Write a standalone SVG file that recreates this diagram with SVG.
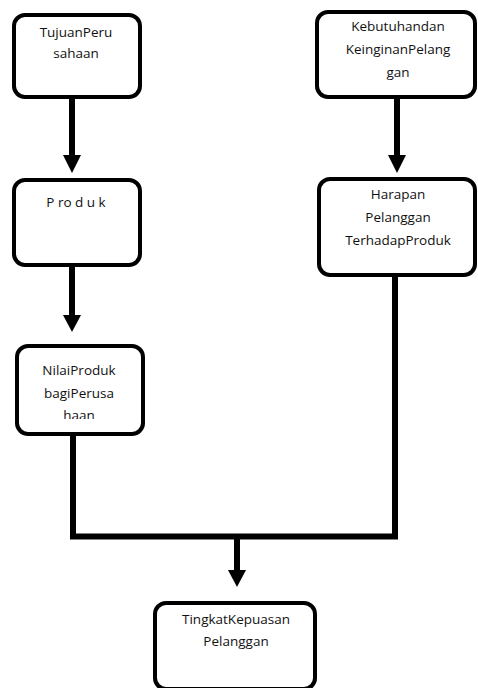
<svg xmlns="http://www.w3.org/2000/svg" width="478" height="688" viewBox="0 0 478 688">
<style>
.box{fill:#fff;stroke:#000;stroke-width:4}
.t{font-family:"Open Sans","Liberation Sans",sans-serif;font-size:13.5px;fill:#111;text-anchor:middle}
.ln{fill:none;stroke:#000;stroke-width:6}
</style>
<defs>
<clipPath id="c3"><rect x="15" y="344" width="130" height="75"/></clipPath>
</defs>
<rect width="478" height="688" fill="#fff"/>
<g id="connectors">
<path class="ln" d="M72,97 V160"/>
<path d="M63,155 L81,155 L72,173 Z" fill="#000"/>
<path class="ln" d="M397,97 V160"/>
<path d="M388,155 L406,155 L397,173 Z" fill="#000"/>
<path class="ln" d="M72,266 V320"/>
<path d="M63,315 L81,315 L72,332 Z" fill="#000"/>
<path class="ln" d="M73,435 V536.5 H395 V276"/>
<path class="ln" d="M237,536 V575"/>
<path d="M228,570 L246,570 L237,587 Z" fill="#000"/>
</g>
<g id="n1">
<rect class="box" x="14" y="15" width="126" height="82" rx="11"/>
<text class="t" x="76" y="37">TujuanPeru</text>
<text class="t" x="76" y="58">sahaan</text>
</g>
<g id="n2">
<rect class="box" x="317" y="12" width="158" height="85" rx="11"/>
<text class="t" x="398" y="31">Kebutuhandan</text>
<text class="t" x="398" y="54">KeinginanPelang</text>
<text class="t" x="398" y="77">gan</text>
</g>
<g id="n3">
<rect class="box" x="14" y="180" width="126" height="85" rx="11"/>
<text class="t" x="76" y="207" xml:space="preserve">P ro d u k</text>
</g>
<g id="n4">
<rect class="box" x="319" y="179" width="156" height="96" rx="11"/>
<text class="t" x="398" y="199">Harapan</text>
<text class="t" x="398" y="222">Pelanggan</text>
<text class="t" x="398" y="245">TerhadapProduk</text>
</g>
<g id="n5">
<rect class="box" x="17" y="346" width="126" height="88" rx="11"/>
<g clip-path="url(#c3)">
<text class="t" x="79" y="375">NilaiProduk</text>
<text class="t" x="79" y="398">bagiPerusa</text>
<text class="t" x="79" y="420">haan</text>
</g>
</g>
<g id="n6">
<rect class="box" x="155" y="603" width="160" height="86" rx="11"/>
<text class="t" x="236" y="624">TingkatKepuasan</text>
<text class="t" x="236" y="646">Pelanggan</text>
</g>
</svg>
